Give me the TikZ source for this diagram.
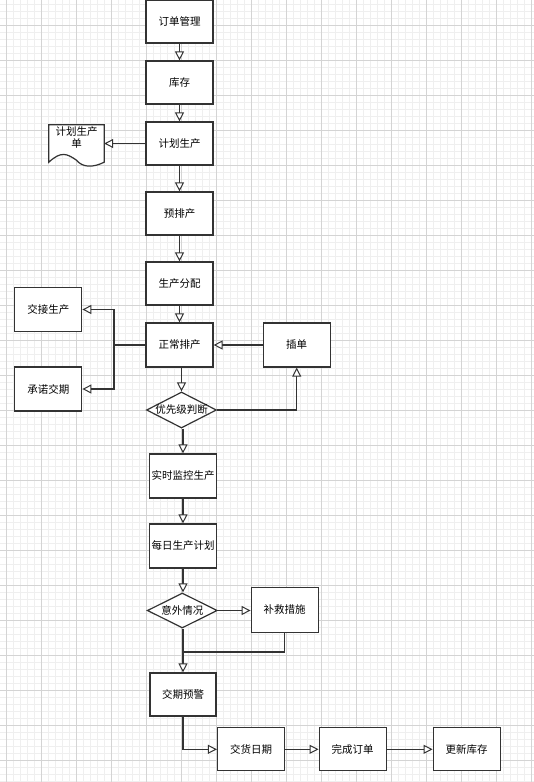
\documentclass[tikz,border=0pt]{standalone}
\usepackage{fontspec}
\newfontfamily\cjk{Noto Sans CJK SC}
\usetikzlibrary{arrows.meta,shapes.geometric}
\definecolor{minorg}{HTML}{EFEFEF}
\definecolor{majorg}{HTML}{D4D4D4}
\definecolor{edgec}{HTML}{333333}
\tikzset{
  box/.style={draw=edgec,line width=1.2pt,fill=white,minimum width=67pt,minimum height=44pt,inner sep=0pt,font=\cjk\fontsize{10.5}{12}\selectfont},
  dia/.style={diamond,draw=edgec,line width=1.2pt,fill=white,minimum width=70pt,minimum height=36pt,inner sep=0pt,label={[font=\cjk\fontsize{10.5}{12}\selectfont,inner sep=0pt]center:#1}},
  conn/.style={draw=edgec,line width=1.1pt},
  arr/.style={conn,-{Triangle[fill=white,length=9pt,width=9pt,line width=1pt]}}
}
\begin{document}
\begin{tikzpicture}[x=1pt,y=-1pt]
\useasboundingbox (0,0) rectangle (534,782);
\fill[white] (0,0) rectangle (534,782);
% grid
\foreach \k in {0,...,77} \draw[minorg,line width=1pt] ({-0.3+7*\k},0) -- ({-0.3+7*\k},782);
\foreach \k in {0,...,111} \draw[minorg,line width=1pt] (0,{4.7+7*\k}) -- (534,{4.7+7*\k});
\foreach \k in {0,...,15} \draw[majorg,line width=1pt] ({6.7+35*\k},0) -- ({6.7+35*\k},782);
\foreach \k in {0,...,21} \draw[majorg,line width=1pt] (0,{25.7+35*\k}) -- (534,{25.7+35*\k});

% nodes
\node[box,minimum height=43pt] (dd) at (179.5,21.5) {订单管理};
\node[box,minimum height=43pt] (kc) at (179.5,82.5) {库存};
\node[box,minimum height=43pt] (jh) at (179.5,143.5) {计划生产};
\node[box,minimum height=43pt] (yp) at (179.5,213.5) {预排产};
\node[box,minimum height=43pt] (fp) at (179.5,283.5) {生产分配};
\node[box] (zc) at (179.5,345) {正常排产};
\node[box] (cd) at (296.7,345) {插单};
\node[box,minimum height=44.5pt] (jj) at (48.3,309.5) {交接生产};
\node[box] (cn) at (48.3,389) {承诺交期};
\node[dia=优先级判断] (d1) at (181.5,410) {};
\node[box,minimum width=67.5pt] (rt) at (183,476) {实时监控生产};
\node[box] (mr) at (183,546) {每日生产计划};
\node[dia=意外情况,minimum height=35pt] (d2) at (182.3,610.5) {};
\node[box,minimum height=45pt] (bj) at (284.7,609.7) {补救措施};
\node[box,minimum width=66pt,minimum height=43pt] (yj) at (183,694.5) {交期预警};
\node[box,minimum height=43pt] (jr) at (251,749.3) {交货日期};
\node[box,minimum height=43pt] (wc) at (352.7,749.3) {完成订单};
\node[box,minimum height=43pt] (gx) at (466.7,749.3) {更新库存};

% document shape
\node[minimum width=55pt,minimum height=33pt,inner sep=0pt] (doc) at (76.5,141.5) {};
\draw[draw=edgec,line width=1.2pt,fill=white]
  (doc.north west) -- (doc.north east) -- ([yshift=-4pt]doc.south east)
  .. controls ([xshift=-12pt,yshift=-10pt]doc.south east) and ([xshift=-22pt,yshift=-9pt]doc.south east) .. ([xshift=0pt,yshift=-2pt]doc.south)
  .. controls ([xshift=-10pt,yshift=5pt]doc.south) and ([xshift=12pt,yshift=7pt]doc.south west) .. ([yshift=-4pt]doc.south west)
  -- cycle;
\node[font=\cjk\fontsize{10.5}{11.8}\selectfont,align=center,inner sep=0pt] (doctext) at (76.5,137.5) {计划生产\\单};

% connectors
\coordinate (J) at (114,345);
\coordinate (M) at (183,652);
\draw[arr] (dd) -- (kc);
\draw[arr] (kc) -- (jh);
\draw[arr] (jh) -- (yp);
\draw[arr] (yp) -- (fp);
\draw[arr] (fp) -- (zc);
\draw[arr] (jh.west) -- (jh.west -| doc.east);
\draw[arr] (cd) -- (zc);
\draw[conn] (zc.west) -- (J);
\draw[arr] (J) |- (jj.east);
\draw[arr] (J) |- (cn.east);
\draw[arr] (d1.north |- zc.south) -- (d1.north);
\draw[arr] (d1.east) -| (cd.south);
\draw[arr] (rt.north |- d1.south) -- (rt.north);
\draw[arr] (rt) -- (mr);
\draw[arr] (mr.south) -- (mr.south |- d2.north);
\draw[arr] (d2.east) -- (d2.east -| bj.west);
\draw[conn] (bj.south) |- (M);
\draw[arr] (yj.north |- d2.south) -- (yj.north);
\draw[arr] (yj.south) |- (jr.west);
\draw[arr] (jr) -- (wc);
\draw[arr] (wc) -- (gx);
\end{tikzpicture}
\end{document}
